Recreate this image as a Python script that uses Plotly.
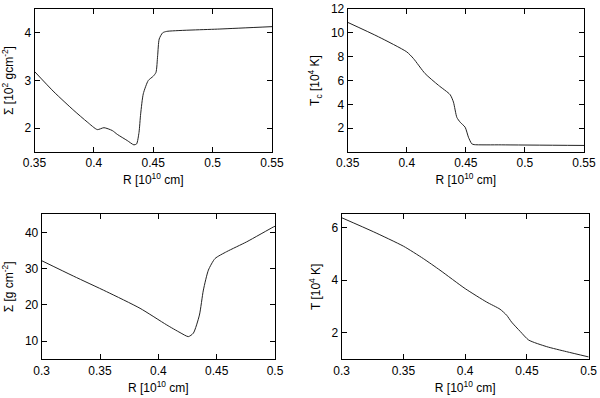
import plotly.graph_objects as go

# Panel 1: Sigma [1e2 g cm^-2] vs R
r1 = [0.35, 0.3664, 0.3832, 0.3944, 0.4029, 0.4085, 0.4155, 0.4197, 0.4281, 0.4337, 0.4360,
      0.4380, 0.4394, 0.4416, 0.4458, 0.4500, 0.4523, 0.4537, 0.4550, 0.4579, 0.4613, 0.5061, 0.55]
s1 = [3.19, 2.76, 2.37, 2.13, 1.97, 2.01, 1.95, 1.87, 1.74, 1.65, 1.67,
      1.91, 2.30, 2.72, 3.00, 3.09, 3.17, 3.52, 3.87, 4.00, 4.03, 4.08, 4.13]

# Panel 2: Tc [1e4 K] vs R
r2 = [0.35, 0.376, 0.400, 0.4056, 0.4155, 0.4268, 0.4367, 0.4395, 0.4424, 0.4452, 0.4494,
      0.4522, 0.4550, 0.4570, 0.48, 0.55]
t2 = [10.88, 9.67, 8.40, 7.85, 6.58, 5.60, 4.81, 4.19, 2.90, 2.50, 2.08,
      1.24, 0.69, 0.62, 0.60, 0.55]

# Panel 3: Sigma [g cm^-2] vs R
r3 = [0.30, 0.3271, 0.3557, 0.3843, 0.4072, 0.4186, 0.4257, 0.4300, 0.4352, 0.4386, 0.4429,
      0.4486, 0.4586, 0.4757, 0.4986, 0.50]
s3 = [32.2, 27.97, 23.65, 19.07, 14.48, 12.37, 11.26, 12.2, 17.2, 24.1, 29.6,
      32.8, 34.7, 37.4, 41.5, 41.7]

# Panel 4: T [1e4 K] vs R
r4 = [0.30, 0.3256, 0.35, 0.3661, 0.3796, 0.40, 0.4174, 0.4282, 0.4336, 0.4376, 0.4447, 0.4514,
      0.466, 0.482, 0.50]
t4 = [6.37, 5.84, 5.29, 4.82, 4.38, 3.68, 3.17, 2.90, 2.67, 2.41, 2.05, 1.73,
      1.48, 1.29, 1.09]

xt_top = [0.35, 0.4, 0.45, 0.5, 0.55]
xt_bot = [0.3, 0.35, 0.4, 0.45, 0.5]

FONT = "Liberation Sans, Arial, Helvetica, sans-serif"
W, H = 600, 398

def fx(px):
    return px / W

def fy(py):
    return 1 - py / H

fig = go.Figure()
line = dict(color="#222222", width=1, shape="spline", smoothing=0.6)
fig.add_trace(go.Scatter(x=r1, y=s1, mode="lines", line=line, xaxis="x", yaxis="y"))
fig.add_trace(go.Scatter(x=r2, y=t2, mode="lines", line=line, xaxis="x2", yaxis="y2"))
fig.add_trace(go.Scatter(x=r3, y=s3, mode="lines", line=line, xaxis="x3", yaxis="y3"))
fig.add_trace(go.Scatter(x=r4, y=t4, mode="lines", line=line, xaxis="x4", yaxis="y4"))

common = dict(showline=True, linecolor="black", linewidth=1, mirror="ticks",
              ticks="inside", ticklen=5, tickcolor="black", showgrid=False, zeroline=False,
              automargin=False,
              tickfont=dict(size=12, color="black", family=FONT))

tfont = dict(size=12, family=FONT, color="black")
xtitle = dict(text="R [10<sup>10</sup> cm]", font=tfont, standoff=6)

def ytitle(t):
    return dict(text=t, font=tfont, standoff=8)

fig.update_layout(
    width=W, height=H, showlegend=False,
    paper_bgcolor="white", plot_bgcolor="white",
    margin=dict(l=0, r=0, t=0, b=0),
    xaxis=dict(domain=[fx(34.5), fx(272)], range=[0.35, 0.55], tickvals=xt_top,
               ticktext=[f"{v:g}" for v in xt_top], anchor="y", title=xtitle, **common),
    yaxis=dict(domain=[fy(152), fy(9)], range=[1.5, 4.5], tickvals=[2, 3, 4], anchor="x",
               title=ytitle("Σ [10<sup>2</sup> gcm<sup>-2</sup>]"), **common),
    xaxis2=dict(domain=[fx(347.7), fx(584)], range=[0.35, 0.55], tickvals=xt_top,
                ticktext=[f"{v:g}" for v in xt_top], anchor="y2", title=xtitle, **common),
    yaxis2=dict(domain=[fy(152), fy(9)], range=[0, 12], tickvals=[2, 4, 6, 8, 10, 12], anchor="x2",
                title=ytitle("T<sub>c</sub> [10<sup>4</sup> K]"), **common),
    xaxis3=dict(domain=[fx(41.7), fx(275)], range=[0.3, 0.5], tickvals=xt_bot,
                ticktext=[f"{v:g}" for v in xt_bot], anchor="y3", title=xtitle, **common),
    yaxis3=dict(domain=[fy(359.3), fy(214.3)], range=[5, 45], tickvals=[10, 20, 30, 40], anchor="x3",
                title=ytitle("Σ [g cm<sup>-2</sup>]"), **common),
    xaxis4=dict(domain=[fx(341.7), fx(588.7)], range=[0.3, 0.5], tickvals=xt_bot,
                ticktext=[f"{v:g}" for v in xt_bot], anchor="y4", title=xtitle, **common),
    yaxis4=dict(domain=[fy(359.3), fy(214.3)], range=[1, 6.5], tickvals=[2, 4, 6], anchor="x4",
                title=ytitle("T [10<sup>4</sup> K]"), **common),
)

fig.write_html("out.html", config={"displayModeBar": False},
               post_script="document.body.style.margin='0';document.body.style.overflow='hidden';")
